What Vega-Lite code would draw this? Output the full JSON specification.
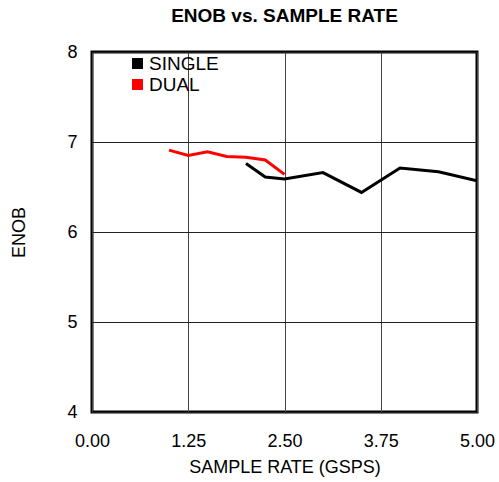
{
  "$schema": "https://vega.github.io/schema/vega-lite/v6.json",
  "autosize": "none",
  "width": 385,
  "height": 360,
  "padding": {"left": 92, "top": 52, "right": 22, "bottom": 70},
  "background": "white",
  "title": {"text": "ENOB vs. SAMPLE RATE", "font": "Liberation Sans", "fontSize": 19, "fontWeight": "bold", "color": "#000", "offset": 17, "anchor": "middle"},
  "config": {
    "view": {"stroke": "#000", "strokeWidth": 3},
    "font": "Liberation Sans"
  },
  "data": {"values": [
    {"series": "DUAL", "rate": 1.0, "enob": 6.91},
    {"series": "DUAL", "rate": 1.25, "enob": 6.85},
    {"series": "DUAL", "rate": 1.5, "enob": 6.89},
    {"series": "DUAL", "rate": 1.75, "enob": 6.84},
    {"series": "DUAL", "rate": 2.0, "enob": 6.83},
    {"series": "DUAL", "rate": 2.25, "enob": 6.80},
    {"series": "DUAL", "rate": 2.5, "enob": 6.64},
    {"series": "SINGLE", "rate": 2.0, "enob": 6.76},
    {"series": "SINGLE", "rate": 2.25, "enob": 6.61},
    {"series": "SINGLE", "rate": 2.5, "enob": 6.59},
    {"series": "SINGLE", "rate": 3.0, "enob": 6.66},
    {"series": "SINGLE", "rate": 3.5, "enob": 6.44},
    {"series": "SINGLE", "rate": 4.0, "enob": 6.71},
    {"series": "SINGLE", "rate": 4.5, "enob": 6.67},
    {"series": "SINGLE", "rate": 5.0, "enob": 6.57}
  ]},
  "mark": {"type": "line", "strokeWidth": 3, "clip": true},
  "encoding": {
    "x": {
      "field": "rate", "type": "quantitative",
      "scale": {"domain": [0, 5], "nice": false, "zero": false},
      "axis": {
        "title": "SAMPLE RATE (GSPS)", "values": [0, 1.25, 2.5, 3.75, 5], "format": ".2f",
        "domain": false, "ticks": false, "labelPadding": 20, "labelFontSize": 18, "labelColor": "#000",
        "titleFontSize": 18, "titleFontWeight": "normal", "titleColor": "#000", "titlePadding": 8,
        "grid": true, "gridColor": "#444", "gridWidth": 1, "gridOpacity": 1,
        "labelFlush": false
      }
    },
    "y": {
      "field": "enob", "type": "quantitative",
      "scale": {"domain": [4, 8], "nice": false, "zero": false},
      "axis": {
        "title": "ENOB", "values": [4, 5, 6, 7, 8],
        "domain": false, "ticks": false, "labelPadding": 15, "labelFontSize": 18, "labelColor": "#000",
        "titleFontSize": 18, "titleFontWeight": "normal", "titleColor": "#000", "titlePadding": 38,
        "grid": true, "gridColor": "#222", "gridWidth": 1, "gridOpacity": 1
      }
    },
    "color": {
      "field": "series", "type": "nominal",
      "scale": {"domain": ["SINGLE", "DUAL"], "range": ["#000000", "#ff0000"]},
      "legend": {
        "title": null, "orient": "none", "legendX": 36, "legendY": 2,
        "symbolType": "square", "symbolSize": 120, "symbolOpacity": 1,
        "labelFontSize": 19, "labelColor": "#000", "labelOffset": 2, "rowPadding": 1,
        "encode": {"symbols": {"update": {"fill": {"scale": "color", "field": "value"}, "strokeWidth": {"value": 0}}}}
      }
    },
    "detail": {"field": "series"}
  }
}
